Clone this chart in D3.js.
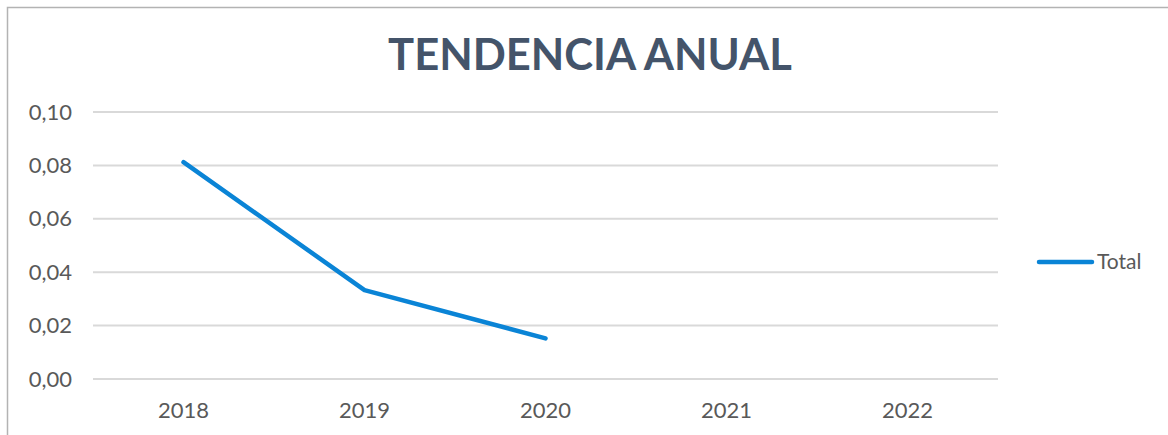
<!DOCTYPE html>
<html>
<head>
<meta charset="utf-8">
<script src="https://cdn.jsdelivr.net/npm/d3@7"></script>
<style>
  body { margin: 0; background: #fff; }
  svg { display: block; font-family: Lato, "Open Sans", sans-serif; }
  .axis path, .axis line { display: none; }
  .axis text { fill: #595959; font-family: Lato, sans-serif; font-size: 22px; }
  .grid line { stroke: #d9d9d9; stroke-width: 2; }
</style>
</head>
<body>
<div id="chart"></div>
<script>
var years = ["2018", "2019", "2020", "2021", "2022"];
var totals = [0.0812, 0.0333, 0.0152, null, null];
var yTicks = [0, 0.02, 0.04, 0.06, 0.08, 0.10];
var seriesName = "Total";
var chartTitle = "TENDENCIA ANUAL";

var svg = d3.select("#chart").append("svg").attr("width", 1168).attr("height", 435),
    margin = {top: 112, right: 170, bottom: 56, left: 93},
    width = 998 - margin.left,
    height = 379 - margin.top;

// chart frame (cut off on the right and bottom)
svg.append("path")
    .attr("d", "M7.5,440 V7.5 H1175")
    .attr("fill", "none")
    .attr("stroke", "#b3b3b3")
    .attr("stroke-width", 1.5);

svg.append("text")
    .attr("x", 590)
    .attr("y", 70)
    .attr("text-anchor", "middle")
    .attr("font-size", "43.5px")
    .attr("font-weight", "bold")
    .attr("fill", "#44546a")
    .text(chartTitle);

var x = d3.scaleBand().domain(years).range([0, width]);
var y = d3.scaleLinear().domain([0, 0.10]).range([height, 0]);

var g = svg.append("g")
    .attr("transform", "translate(" + margin.left + "," + margin.top + ")");

g.append("g")
    .attr("class", "grid")
  .selectAll("line")
  .data(yTicks)
  .enter().append("line")
    .attr("x1", 0)
    .attr("x2", width)
    .attr("y1", function(d) { return y(d); })
    .attr("y2", function(d) { return y(d); });

g.append("g")
    .attr("class", "axis")
    .call(d3.axisLeft(y).tickValues(yTicks).tickSize(0).tickPadding(21)
      .tickFormat(function(d) { return d3.format(".2f")(d).replace(".", ","); }));

g.append("g")
    .attr("class", "axis")
    .attr("transform", "translate(0," + height + ")")
    .call(d3.axisBottom(x).tickSize(0).tickPadding(23));

var line = d3.line()
    .defined(function(d) { return d != null; })
    .x(function(d, i) { return x(years[i]) + x.bandwidth() / 2; })
    .y(function(d) { return y(d); });

g.append("path")
    .datum(totals)
    .attr("fill", "none")
    .attr("stroke", "#0a84d6")
    .attr("stroke-width", 4.5)
    .attr("stroke-linecap", "round")
    .attr("stroke-linejoin", "round")
    .attr("d", line);

// legend
var legend = svg.append("g").attr("transform", "translate(1039,262)");
legend.append("line")
    .attr("x1", 0).attr("x2", 53)
    .attr("stroke", "#0a84d6")
    .attr("stroke-width", 4.5)
    .attr("stroke-linecap", "round");
legend.append("text")
    .attr("x", 58)
    .attr("dy", "0.35em")
    .attr("font-size", "21px")
    .attr("fill", "#595959")
    .text(seriesName);
</script>
</body>
</html>
